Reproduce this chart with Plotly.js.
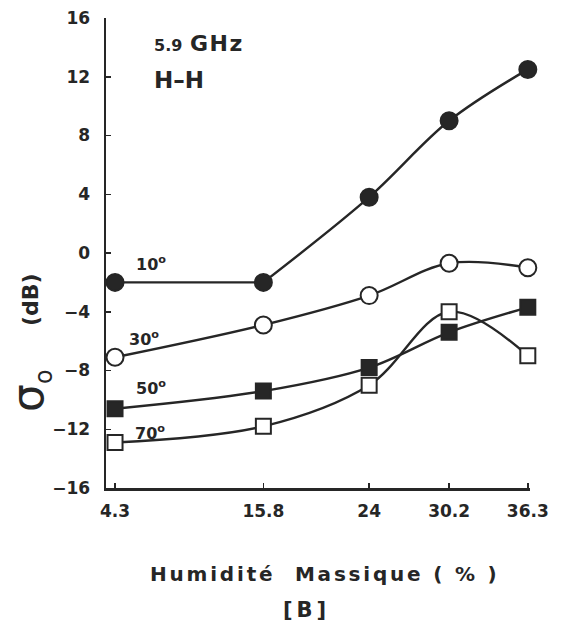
<!DOCTYPE html>
<html><head><meta charset="utf-8">
<script src="https://cdn.plot.ly/plotly-3.0.1.min.js"></script>
<style>html,body{margin:0;padding:0;background:#fff}#chart{width:565px;height:632px}</style>
</head><body><div id="chart"></div>
<script>
const humidity = [4.3, 15.8, 24, 30.2, 36.3];
const xTickLabels = ["4.3", "15.8", "24", "30.2", "36.3"];
const yTickVals = [-16, -12, -8, -4, 0, 4, 8, 12, 16];
const yTickLabels = ["−16", "−12", "−8", "−4", "0", "4", "8", "12", "16"];
const angles = ["10", "30", "50", "70"];
const sigma10 = [-2.0, -2.0, 3.8, 9.0, 12.5];
const sigma30 = [-7.1, -4.9, -2.9, -0.7, -1.0];
const sigma50 = [-10.6, -9.4, -7.8, -5.4, -3.7];
const sigma70 = [-12.9, -11.8, -9.0, -4.0, -7.0];

const ink = '#262626';
function lineTrace(x, y, shape) {
  return {x: x, y: y, type: 'scatter', mode: 'lines',
    line: {color: ink, width: 2.4, shape: shape, smoothing: 1},
    cliponaxis: false, showlegend: false, hoverinfo: 'skip'};
}
function markerTrace(y, filled, symbol, size) {
  return {x: humidity, y: y, type: 'scatter', mode: 'markers',
    marker: {symbol: symbol, size: size, color: filled ? ink : '#fff', line: {color: ink, width: 2}},
    cliponaxis: false, showlegend: false, hoverinfo: 'skip'};
}
const data = [
  // 10°: flat straight start, then smooth rise
  lineTrace(humidity.slice(0, 2), sigma10.slice(0, 2), 'linear'),
  lineTrace(humidity.slice(1), sigma10.slice(1), 'spline'),
  lineTrace(humidity, sigma30, 'spline'),
  lineTrace(humidity, sigma50, 'spline'),
  lineTrace(humidity, sigma70, 'spline'),
  markerTrace(sigma10, true, 'circle', 17),
  markerTrace(sigma30, false, 'circle', 17),
  markerTrace(sigma50, true, 'square', 15),
  markerTrace(sigma70, false, 'square', 15)
];

const fam = 'DejaVu Sans, Liberation Sans, sans-serif';
const ann = (x, y, text, size, extra) => Object.assign({
  xref: 'paper', yref: 'paper', x: x, y: y, text: text, showarrow: false,
  font: {family: fam, color: ink, size: size, weight: 'bold'}
}, extra || {});

// pixel-to-paper helpers (plot area: left 106, width 424, top 18, height 470)
const px = v => (v - 106) / 424;
const py = v => (488 - v) / 470;
const ls = (t, s) => '<span style="letter-spacing:' + s + 'px">' + t + '</span>';

const layout = {
  width: 565, height: 632,
  margin: {l: 106, r: 35, t: 18, b: 144},
  paper_bgcolor: '#fff', plot_bgcolor: '#fff',
  font: {family: fam, color: ink},
  xaxis: {
    range: [3.6, 36.47], tickvals: humidity, ticktext: xTickLabels,
    ticks: 'inside', ticklen: 5, tickwidth: 1.5, tickcolor: ink,
    showline: true, linecolor: ink, linewidth: 2.5, showgrid: false, zeroline: false,
    tickfont: {family: fam, color: ink, size: 17, weight: 'bold'}, ticklabelstandoff: 6
  },
  yaxis: {
    range: [-16, 16], tickvals: yTickVals, ticktext: yTickLabels,
    ticks: 'inside', ticklen: 5, tickwidth: 1.5, tickcolor: ink,
    showline: true, linecolor: ink, linewidth: 2.5, showgrid: false, zeroline: false,
    tickfont: {family: fam, color: ink, size: 17, weight: 'bold'}, ticklabelstandoff: 10
  },
  annotations: [
    ann(px(152), py(44), '<span style="font-size:16px">5.9</span> ' + ls('GHz', 1.5), 22, {xanchor: 'left', yanchor: 'middle'}),
    ann(px(152), py(80), 'H–H', 23, {xanchor: 'left', yanchor: 'middle'}),
    ann(px(134), py(263), angles[0] + '<sup>o</sup>', 16, {xanchor: 'left', yanchor: 'middle'}),
    ann(px(127), py(338), angles[1] + '<sup>o</sup>', 16, {xanchor: 'left', yanchor: 'middle'}),
    ann(px(134), py(387), angles[2] + '<sup>o</sup>', 16, {xanchor: 'left', yanchor: 'middle'}),
    ann(px(133), py(432), angles[3] + '<sup>o</sup>', 16, {xanchor: 'left', yanchor: 'middle'}),
    ann(px(30), py(391), 'σ<sub><span style="font-size:24px">o</span></sub>', 44,
        {xanchor: 'center', yanchor: 'middle', textangle: -90, font: {family: 'DejaVu Sans, sans-serif', color: ink, size: 44}}),
    ann(px(30), py(300), '(dB)', 22, {xanchor: 'center', yanchor: 'middle', textangle: -90}),
    ann(px(148), py(574), ls('Humidité  Massique ( % )', 2.8), 20, {xanchor: 'left', yanchor: 'middle'}),
    ann(px(306), py(610), ls('[B]', 4), 21, {xanchor: 'center', yanchor: 'middle'})
  ]
};
Plotly.newPlot('chart', data, layout, {displayModeBar: false, staticPlot: true});
</script></body></html>
